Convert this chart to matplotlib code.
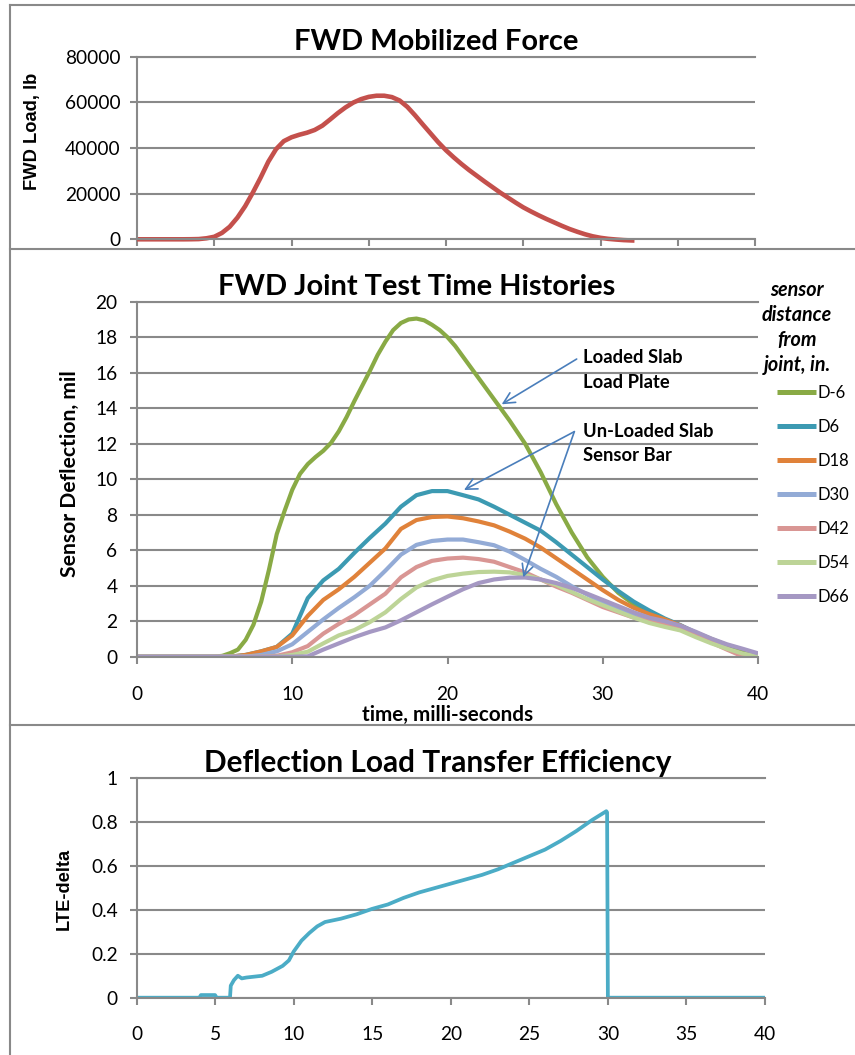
import numpy as np
import matplotlib
matplotlib.use("Agg")
import matplotlib.pyplot as plt
from matplotlib.lines import Line2D

# ---------------- data ----------------
force_time_ms = [0, 0.5, 1, 1.5, 2, 2.5, 3, 3.5, 4, 4.5, 5, 5.5, 6, 6.5, 7,
                 7.5, 8, 8.5, 9, 9.5, 10, 10.5, 11, 11.5, 12, 12.5, 13, 13.5,
                 14, 14.5, 15, 15.5, 16, 16.5, 17, 17.5, 18, 18.5, 19, 19.5,
                 20, 20.5, 21, 21.5, 22, 22.5, 23, 23.5, 24, 24.5, 25, 25.5,
                 26, 26.5, 27, 27.5, 28, 28.5, 29, 29.5, 30, 30.5, 31, 31.5,
                 32, 32.2]
force_lb = [0, 0, 0, 0, 0, 0, 0, 30, 100, 450, 1100, 2800, 5500, 9500, 14500,
            20500, 27000, 34000, 39500, 43000, 44700, 45800, 46700, 47900,
            49800, 52500, 55300, 57800, 59900, 61400, 62400, 62900, 62900,
            62300, 60800, 58000, 54300, 50300, 46400, 42500, 39000, 35900,
            33000, 30300, 27800, 25300, 22900, 20500, 18300, 16100, 14000,
            12200, 10500, 8900, 7400, 5900, 4500, 3300, 2200, 1300, 650, 200,
            -100, -350, -500, -550]

# loaded-slab sensor, recorded more densely through its rise and peak
d_m6_time_ms = [0, 5, 5.5, 6, 6.5, 7, 7.5, 8, 8.5, 9, 9.5, 10, 10.5, 11,
                11.5, 12, 12.5, 13, 13.5, 14, 14.5, 15, 15.5, 16, 16.5, 17,
                17.5, 18, 18.5, 19, 19.5, 20, 20.5, 21, 22, 23, 24, 25, 26,
                27, 28, 29, 30, 31, 32, 33, 34, 35, 36, 37, 38, 39, 40]
d_m6 = [0, 0, 0.05, 0.2, 0.4, 0.95, 1.8, 3.1, 4.9, 6.9, 8.2, 9.4, 10.3,
        10.85, 11.25, 11.6, 12.05, 12.7, 13.5, 14.4, 15.25, 16.1, 17.0,
        17.75, 18.4, 18.8, 19.0, 19.05, 18.95, 18.7, 18.4, 18.0, 17.5, 16.9,
        15.7, 14.5, 13.3, 12.0, 10.4, 8.6, 7.0, 5.6, 4.5, 3.6, 2.95, 2.45,
        2.05, 1.7, 1.35, 1.0, 0.65, 0.35, 0.08]

time_ms = list(range(41))
d_6 = [0, 0, 0, 0, 0, 0, 0, 0.1, 0.3, 0.55, 1.3, 3.3, 4.3, 4.95, 5.85, 6.7,
       7.5, 8.45, 9.1, 9.33, 9.33, 9.1, 8.86, 8.45, 8.0, 7.55, 7.1, 6.45,
       5.75, 5.05, 4.35, 3.7, 3.1, 2.6, 2.15, 1.78, 1.35, 0.93, 0.5, 0.08,
       -0.3]
d_18 = [0, 0, 0, 0, 0, 0, 0, 0.1, 0.3, 0.55, 1.2, 2.3, 3.2, 3.8, 4.5, 5.3,
        6.1, 7.2, 7.7, 7.87, 7.9, 7.8, 7.62, 7.4, 7.05, 6.65, 6.15, 5.55,
        4.95, 4.35, 3.75, 3.2, 2.75, 2.4, 2.1, 1.76, 1.33, 0.9, 0.48, 0.06,
        -0.3]
d_30 = [0, 0, 0, 0, 0, 0, 0, 0, 0.1, 0.3, 0.7, 1.4, 2.1, 2.75, 3.35, 4.0,
        4.85, 5.75, 6.3, 6.52, 6.6, 6.6, 6.45, 6.28, 5.92, 5.45, 4.95, 4.5,
        3.97, 3.5, 3.07, 2.65, 2.33, 2.1, 1.9, 1.64, 1.25, 0.85, 0.45, 0.05,
        -0.3]
d_42 = [0, 0, 0, 0, 0, 0, 0, 0, 0, 0.05, 0.25, 0.6, 1.3, 1.85, 2.35, 2.95,
        3.55, 4.47, 5.05, 5.4, 5.53, 5.58, 5.5, 5.35, 5.05, 4.75, 4.35, 3.95,
        3.6, 3.2, 2.8, 2.5, 2.2, 1.97, 1.78, 1.57, 1.2, 0.8, 0.4, 0.02, -0.3]
d_54 = [0, 0, 0, 0, 0, 0, 0, 0, 0, 0, 0.1, 0.28, 0.75, 1.2, 1.5, 1.95, 2.5,
        3.25, 3.9, 4.3, 4.55, 4.68, 4.77, 4.79, 4.75, 4.6, 4.35, 4.05, 3.65,
        3.25, 2.9, 2.55, 2.2, 1.9, 1.68, 1.48, 1.1, 0.75, 0.45, 0.18, 0.02]
d_66 = [0, 0, 0, 0, 0, 0, 0, 0, 0, 0, 0, 0.02, 0.4, 0.75, 1.1, 1.4, 1.65,
        2.05, 2.5, 2.95, 3.38, 3.8, 4.15, 4.35, 4.45, 4.46, 4.35, 4.15, 3.88,
        3.55, 3.2, 2.85, 2.5, 2.2, 2.0, 1.75, 1.4, 1.02, 0.7, 0.45, 0.19]
sensor_times = [d_m6_time_ms] + [time_ms] * 6
sensor_series = [d_m6, d_6, d_18, d_30, d_42, d_54, d_66]
sensor_labels = ["D-6", "D6", "D18", "D30", "D42", "D54", "D66"]
sensor_colors = ["#89AA45", "#3C9AB2", "#E0823A", "#93ABD6", "#D99694",
                 "#BDD497", "#A598C3"]

lte_time_ms = [0, 4.0, 4.1, 5.0, 5.1, 5.95, 6.0, 6.2, 6.45, 6.7, 7.0, 8.0,
               8.6, 9.3, 9.7, 10.0, 10.5, 11.0, 11.5, 12.0, 13.0, 14.0, 15.0,
               16.0, 17.0, 18.0, 19.0, 20.0, 21.0, 22.0, 23.0, 24.0, 25.0,
               26.0, 27.0, 28.0, 29.0, 29.9, 29.95, 30.0, 40.0]
lte_delta = [0, 0, 0.012, 0.012, 0, 0, 0.055, 0.08, 0.1, 0.088, 0.092, 0.1,
             0.118, 0.145, 0.17, 0.21, 0.26, 0.295, 0.325, 0.345, 0.36, 0.38,
             0.405, 0.425, 0.455, 0.48, 0.5, 0.52, 0.54, 0.56, 0.585, 0.615,
             0.645, 0.675, 0.715, 0.76, 0.81, 0.85, 0.845, 0, 0]

# ---------------- figure ----------------
W, H, DPI = 855, 1055, 100
plt.rcParams['font.family'] = ['Lato', 'DejaVu Sans']
fig = plt.figure(figsize=(W / DPI, H / DPI), dpi=DPI)
fig.patch.set_facecolor('white')
renderer = fig.canvas.get_renderer()

GRID = '#898989'
TXT = '#000000'


def rect(left, top, right, bottom):
    return [left / W, 1 - bottom / H, (right - left) / W, (bottom - top) / H]


def fxy(px, py):
    return px / W, 1 - py / H


def fit(txt, length_px, vertical=False):
    bb = txt.get_window_extent(renderer=renderer)
    cur = bb.height if vertical else bb.width
    txt.set_fontsize(txt.get_fontsize() * length_px / cur)


def style_axes(ax, xmax, xstep, ymax, ystep, ypad, xpad, xlabels=True):
    ax.set_xlim(0, xmax)
    ax.set_ylim(0, ymax)
    ax.set_xticks(np.arange(0, xmax + 1e-9, xstep))
    ax.set_yticks(np.arange(0, ymax + 1e-9, ystep))
    ax.spines['right'].set_visible(False)
    for s in ('left', 'bottom', 'top'):
        ax.spines[s].set_color(GRID)
        ax.spines[s].set_linewidth(1.5)
    ax.grid(axis='y', color=GRID, linewidth=1.5)
    ax.set_axisbelow(True)
    ax.tick_params(axis='both', direction='out', length=5, width=1.5,
                   color=GRID, labelsize=13.8, labelcolor=TXT)
    ax.tick_params(axis='y', pad=ypad)
    ax.tick_params(axis='x', pad=xpad)
    if not xlabels:
        ax.tick_params(axis='x', labelbottom=False)


LINE_KW = dict(solid_joinstyle='round', solid_capstyle='butt')

# panel frames
for seg in ([(10, 5), (10, 1055)], [(10, 5), (855, 5)],
            [(10, 249), (855, 249)], [(10, 725), (855, 725)]):
    (x0, y0), (x1, y1) = seg
    fig.add_artist(Line2D([x0 / W, x1 / W], [1 - y0 / H, 1 - y1 / H],
                          transform=fig.transFigure, color=GRID, lw=1.5))

# ---- top: FWD force ----
ax1 = fig.add_axes(rect(137, 56.7, 755, 239.3))
style_axes(ax1, 40, 5, 80000, 20000, ypad=7, xpad=4, xlabels=False)
ax1.plot(force_time_ms, force_lb, color='#C4504C', lw=3.3, clip_on=False,
         **LINE_KW)
t = fig.text(*fxy(436.5, 50), "FWD Mobilized Force", ha='center',
             va='baseline', weight='bold', size=20)
fit(t, 285)
t = fig.text(*fxy(32.7, 131.7), "FWD Load, lb", rotation=90, ha='center',
             va='center', weight='bold', size=13, family='Liberation Sans')
fit(t, 116.7, vertical=True)

# ---- middle: sensor deflections ----
ax2 = fig.add_axes(rect(137, 301.7, 758, 656.7))
style_axes(ax2, 40, 10, 20, 2, ypad=9, xpad=16)
lines = []
for tt_, vals, lab, col in zip(sensor_times, sensor_series, sensor_labels,
                               sensor_colors):
    ln, = ax2.plot(tt_, vals, color=col, lw=3.0, label=lab, **LINE_KW)
    lines.append(ln)
t = fig.text(*fxy(416.3, 295), "FWD Joint Test Time Histories", ha='center',
             va='baseline', weight='bold', size=20)
fit(t, 399)
t = fig.text(*fxy(69.5, 474), "Sensor Deflection, mil", rotation=90,
             ha='center', va='center', weight='bold', size=14)
fit(t, 208, vertical=True)
t = fig.text(*fxy(447.5, 720.5), "time, milli-seconds", ha='center',
             va='baseline', weight='bold', size=13)
fit(t, 171)

leg = ax2.legend(handles=lines, loc='upper left',
                 bbox_to_anchor=fxy(776.7, 385), bbox_transform=fig.transFigure,
                 frameon=False, fontsize=12, handlelength=2.35,
                 handletextpad=0.12, labelspacing=1.08, borderpad=0,
                 borderaxespad=0)
for h in leg.legend_handles:
    h.set_linewidth(3.6)

title_lines = ["sensor", "distance", "from", "joint, in."]
tt = []
for i, s in enumerate(title_lines):
    tt.append(fig.text(*fxy(797, 296 + 25 * i), s, ha='center', va='baseline',
                       weight='bold', style='italic', size=13))
fit(tt[1], 70)
for x in tt:
    x.set_fontsize(tt[1].get_fontsize())

ann = []
for s, base in (("Loaded Slab", 363.3), ("Load Plate", 387.7),
                ("Un-Loaded Slab", 436.7), ("Sensor Bar", 461)):
    ann.append(fig.text(*fxy(582.7, base), s, ha='left', va='baseline',
                        weight='bold', size=13))
fit(ann[2], 130)
for x in ann:
    x.set_fontsize(ann[2].get_fontsize())

arrow_kw = dict(arrowstyle='->', color='#4A7EBB', lw=1.2, shrinkA=0,
                shrinkB=0, mutation_scale=20)
ax2.annotate('', xy=(23.49, 14.22), xytext=(28.32, 16.77),
             arrowprops=arrow_kw)
ax2.annotate('', xy=(21.06, 9.39), xytext=(28.17, 12.68),
             arrowprops=arrow_kw)
ax2.annotate('', xy=(24.88, 4.47), xytext=(28.17, 12.68),
             arrowprops=arrow_kw)

# ---- bottom: LTE ----
ax3 = fig.add_axes(rect(136.5, 778.3, 765, 997.7))
style_axes(ax3, 40, 5, 1.0, 0.2, ypad=8.5, xpad=15.5)
ax3.set_yticklabels(['0', '0.2', '0.4', '0.6', '0.8', '1'])
ax3.plot(lte_time_ms, lte_delta, color='#4BACC6', lw=2.7, **LINE_KW)
t = fig.text(*fxy(437.5, 771.7), "Deflection Load Transfer Efficiency",
             ha='center', va='baseline', weight='bold', size=20)
fit(t, 467)
t = fig.text(*fxy(64, 889), "LTE-delta", rotation=90, ha='center',
             va='center', weight='bold', size=13, family='Liberation Sans')
fit(t, 81.7, vertical=True)

fig.savefig('out.png', dpi=DPI, facecolor='white')
